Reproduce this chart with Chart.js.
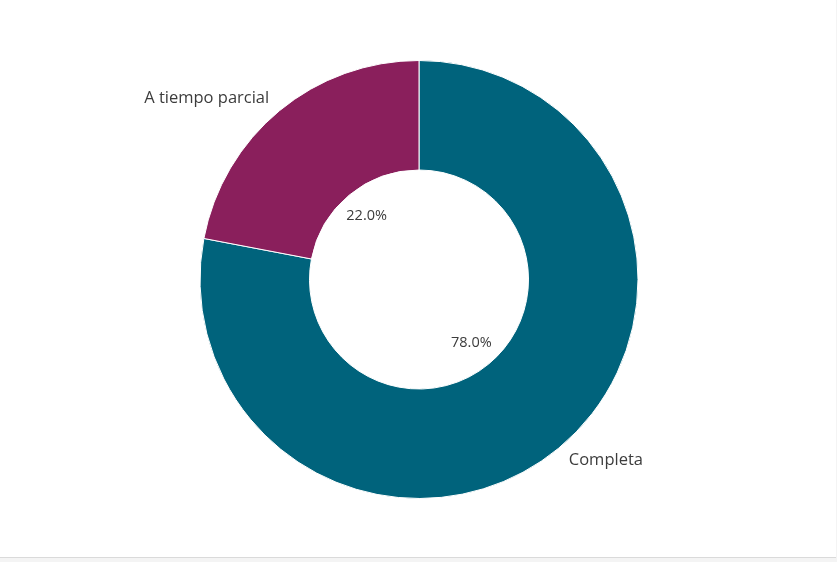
<!DOCTYPE html>
<html lang="es">
<head>
    <meta charset="UTF-8">
    <title>Jornada</title>
    <script src="https://cdn.jsdelivr.net/npm/chart.js@4/dist/chart.umd.min.js"></script>
    <style>
        html, body { margin: 0; padding: 0; background: #f4f4f4; }
        .card { width: 836px; height: 557px; background: #fff; border-bottom: 1px solid #dadada; }
        #chart { display: block; }
    </style>
</head>
<body>
    <div class="card">
        <canvas id="chart" width="836" height="557"></canvas>
    </div>

    <script>
        // Data
        const labels = ['Completa', 'A tiempo parcial'];
        const values = [78.0, 22.0];
        const colors = ['#00637c', '#8a1f5c'];

        // labels outside the ring plus percentages inside the hole
        const sliceLabels = {
            id: 'sliceLabels',
            afterDatasetsDraw(chart) {
                const ctx = chart.ctx;
                const meta = chart.getDatasetMeta(0);
                ctx.save();
                ctx.fillStyle = '#3c3c3c';
                ctx.textBaseline = 'middle';
                meta.data.forEach((arc, i) => {
                    const p = arc.getProps(['x', 'y', 'startAngle', 'endAngle', 'outerRadius', 'innerRadius'], true);
                    const mid = (p.startAngle + p.endAngle) / 2;
                    const cos = Math.cos(mid), sin = Math.sin(mid);

                    // percentage
                    ctx.font = '14.5px "Open Sans", sans-serif';
                    ctx.textAlign = 'center';
                    const rIn = p.innerRadius * 0.75;
                    ctx.fillText(values[i].toFixed(1) + '%', p.x + cos * rIn, p.y + sin * rIn);

                    // category name
                    ctx.font = '16.5px "Open Sans", sans-serif';
                    const rOut = p.outerRadius + 16;
                    ctx.textAlign = cos < 0 ? 'right' : 'left';
                    ctx.fillText(labels[i], p.x + cos * rOut, p.y + sin * rOut);
                });
                ctx.restore();
            }
        };

        new Chart(document.getElementById('chart'), {
            type: 'doughnut',
            data: {
                labels: labels,
                datasets: [{
                    data: values,
                    backgroundColor: colors,
                    borderColor: '#fff',
                    borderWidth: 1
                }]
            },
            options: {
                responsive: false,
                animation: false,
                cutout: '50%',
                layout: { padding: { top: 60, bottom: 58, left: 199, right: 197 } },
                plugins: {
                    legend: { display: false },
                    tooltip: { enabled: false }
                }
            },
            plugins: [sliceLabels]
        });
    </script>
</body>
</html>
